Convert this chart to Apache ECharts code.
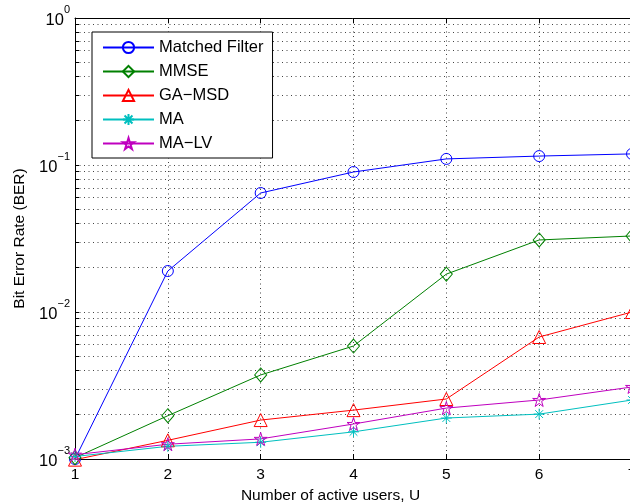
<!DOCTYPE html>
<html><head><meta charset="utf-8">
<script src="https://cdn.jsdelivr.net/npm/echarts@6/dist/echarts.min.js"></script>
<style>html,body{margin:0;padding:0;background:#fff}#c{width:630px;height:504px}</style>
</head><body><div id="c"></div><script>
const users = [1, 2, 3, 4, 5, 6, 7];
const matchedFilter = [0.00100, 0.0190, 0.0645, 0.0896, 0.110, 0.115, 0.119];
const mmse = [0.00102, 0.00197, 0.00373, 0.00587, 0.0181, 0.0309, 0.0329];
const gaMsd = [0.00099, 0.00134, 0.00184, 0.00215, 0.00256, 0.00676, 0.0100];
const ma = [0.00104, 0.00122, 0.00130, 0.00153, 0.00190, 0.00202, 0.00252];
const maLv = [0.00107, 0.00126, 0.00137, 0.00173, 0.00222, 0.00252, 0.00309];
const seriesNames = ['Matched Filter', 'MMSE', 'GA\u2212MSD', 'MA', 'MA\u2212LV'];
const xTicks = [1, 2, 3, 4, 5, 6, 7];
const yTicks = [0.001,0.002,0.003,0.004,0.005,0.006,0.007,0.008,0.009,
                0.01,0.02,0.03,0.04,0.05,0.06,0.07,0.08,0.09,
                0.1,0.2,0.3,0.4,0.5,0.6,0.7,0.8,0.9,1];

const FONT = "'Liberation Sans', Arial, Helvetica, sans-serif";
const colors = ['#0000ff', '#008000', '#ff0000', '#00bfbf', '#bf00bf'];
const symbols = [
  'circle',
  'diamond',
  'triangle',
  'path://M5,0L5,10M0,5L10,5M1.46,1.46L8.54,8.54M1.46,8.54L8.54,1.46',
  'path://M50,0L61.17,34.63L97.55,34.55L68.07,55.87L79.39,90.45L50,69L20.61,90.45L31.93,55.87L2.45,34.55L38.83,34.63Z'
];
const sizes = [11, [12, 14], 13, 11, 13];
const dataSets = [matchedFilter, mmse, gaMsd, ma, maLv];

const series = dataSets.map((d, i) => ({
  name: seriesNames[i],
  type: 'line',
  data: users.map((u, j) => [u, d[j]]),
  symbol: symbols[i],
  symbolSize: sizes[i],
  showAllSymbol: true,
  clip: false,
  lineStyle: { color: colors[i], width: 1 },
  itemStyle: { color: 'rgba(255,255,255,0)', borderColor: colors[i], borderWidth: 1 },
  emphasis: { disabled: true },
  animation: false
}));

const chart = echarts.init(document.getElementById('c'), null, { renderer: 'canvas' });
chart.setOption({
  backgroundColor: '#fff',
  animation: false,
  textStyle: { fontFamily: FONT, color: '#000' },
  grid: { left: 75, right: -2, top: 18, bottom: 45, containLabel: false, outerBoundsMode: 'none' },
  legend: {
    orient: 'vertical',
    left: 92, top: 32,
    backgroundColor: '#fff',
    borderColor: '#000', borderWidth: 1,
    padding: [7, 9, 6, 10],
    itemGap: 7,
    itemWidth: 51, itemHeight: 14,
    textStyle: { fontFamily: FONT, fontSize: 16.5, color: '#000' },
    data: seriesNames,
    selectedMode: false
  },
  xAxis: [{
    type: 'value', min: 1, max: 7, interval: 1,
    position: 'bottom',
    axisLine: { show: true, lineStyle: { color: '#000', width: 1 } },
    axisTick: { show: true, inside: true, length: 5, lineStyle: { color: '#000' } },
    axisLabel: { fontFamily: FONT, fontSize: 15.5, color: '#000', margin: 8 },
    splitLine: { show: true, lineStyle: { color: '#444', width: 1, type: [1, 3.5] } },
    name: 'Number of active users, U',
    nameLocation: 'middle', nameGap: 25,
    nameTextStyle: { fontFamily: FONT, fontSize: 15.5, color: '#000', padding: [0, 46, 0, 0] }
  }, {
    type: 'value', min: 1, max: 7, interval: 1,
    position: 'top',
    axisLine: { show: true, lineStyle: { color: '#000', width: 1 } },
    axisTick: { show: true, inside: true, length: 5, lineStyle: { color: '#000' } },
    axisLabel: { show: false },
    splitLine: { show: false }
  }],
  yAxis: [{
    type: 'log', logBase: 10, min: 0.001, max: 1,
    position: 'left',
    axisLine: { show: true, lineStyle: { color: '#000', width: 1 } },
    axisTick: { show: true, inside: true, length: 4, customValues: yTicks, lineStyle: { color: '#000' } },
    minorTick: { show: false },
    splitLine: { show: true, lineStyle: { color: '#444', width: 1, type: [1, 3.5] } },
    axisLabel: {
      margin: 5,
      padding: [0, 0, 3, 0],
      formatter: function (v) {
        const e = Math.round(Math.log10(v));
        return '{b|10}{s|' + (e < 0 ? '\u2212' + (-e) : e) + '}';
      },
      rich: {
        b: { fontFamily: FONT, fontSize: 16.5, color: '#000', lineHeight: 24, verticalAlign: 'bottom' },
        s: { fontFamily: FONT, fontSize: 11, color: '#000', lineHeight: 10, verticalAlign: 'top' }
      }
    },
    name: 'Bit Error Rate (BER)',
    nameLocation: 'middle', nameGap: 47, nameRotate: 90, nameMoveOverlap: false,
    nameTextStyle: { fontFamily: FONT, fontSize: 15.5, color: '#000' }
  }],
  series: series
});
</script></body></html>
